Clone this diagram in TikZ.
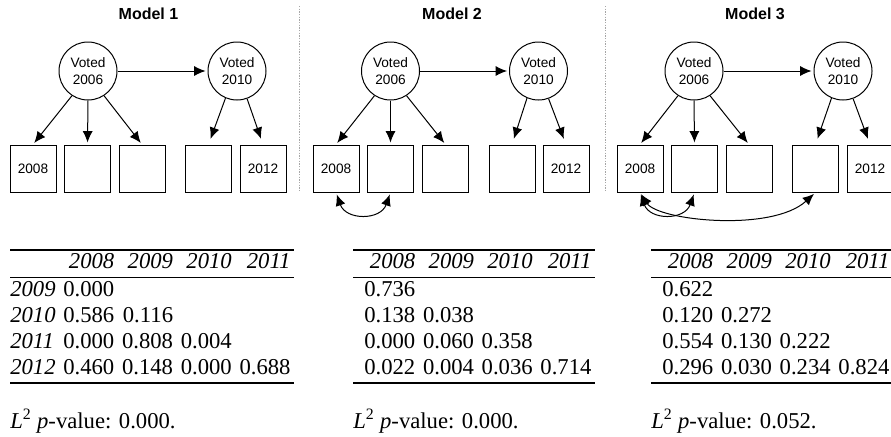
\documentclass[tikz,border=0pt]{standalone}
\usepackage{fontspec}
\setmainfont{Liberation Serif}
\setsansfont{Liberation Sans}
\usepackage{tikz}
\usetikzlibrary{arrows.meta}
\setlength{\tabcolsep}{2.9pt}
\setlength{\arrayrulewidth}{1.1pt}

\begin{document}
\begin{tikzpicture}[x=0.75pt,y=0.75pt,yscale=-1,xscale=1,
  voted/.style={draw, circle, minimum size=43.5pt, inner sep=0pt, align=center, line width=0.75pt, font=\sffamily\fontsize{10.25}{12.75}\selectfont},
  yearbox/.style={draw, rectangle, minimum width=34.5pt, minimum height=35.25pt, inner sep=0pt, line width=0.75pt, font=\sffamily\fontsize{10.25}{12.75}\selectfont},
  link/.style={-{Latex[length=8.5pt,width=7.5pt]}, line width=0.75pt, shorten >=1.5pt},
  corr/.style={{Latex[length=8.5pt,width=7.5pt]}-{Latex[length=8.5pt,width=7.5pt]}, line width=0.75pt, shorten <=1.5pt, shorten >=1.5pt},
  modeltitle/.style={inner sep=0pt, font=\sffamily\bfseries\fontsize{12}{14}\selectfont},
  divider/.style={draw=gray!70, line width=0.75pt, dash pattern=on 1pt off 1pt},
  corrtab/.style={anchor=north west, inner sep=0pt, font=\fontsize{17}{19.5}\selectfont},
  pval/.style={anchor=base west, inner sep=0pt, font=\fontsize{17}{19.5}\selectfont}]
\useasboundingbox (0,0) rectangle (891,436);
%Straight Lines
\draw [divider] (299.5,6) -- (299.5,192) ;
%Straight Lines
\draw [divider] (605,6) -- (605,192) ;

% Model 1
% Text Node
\draw (148.5,14) node [modeltitle] (m1title) {Model 1};
%Shape: Circle
\draw (88,71) node [voted] (m1v06) {Voted\\2006};
%Shape: Circle
\draw (237,71) node [voted] (m1v10) {Voted\\2010};
%Shape: Square
\draw (33,168.5) node [yearbox] (m1y08) {2008};
%Shape: Square
\draw (87.5,168.5) node [yearbox] (m1y09) {};
%Shape: Square
\draw (142,168.5) node [yearbox] (m1y10) {};
%Shape: Square
\draw (208.5,168.5) node [yearbox] (m1y11) {};
%Shape: Square
\draw (263,168.5) node [yearbox] (m1y12) {2012};
%Straight Lines
\draw [link] (m1v06.east) -- (m1v10.west) ;
\draw [link] (m1v06.237) -- (m1y08.north) ;
\draw [link] (m1v06.south) -- (m1y09.north) ;
\draw [link] (m1v06.303) -- (m1y10.north) ;
\draw [link, shorten >=4.5pt] (m1v10.247) -- (m1y11.north) ;
\draw [link, shorten >=4.5pt] (m1v10.290) -- (m1y12.north) ;
% Text Node
\draw (10,249) node [corrtab] (m1tab) {\begin{tabular}{@{}lrrrr}
\hline
 & \textit{2008} & \textit{2009} & \textit{2010} & \textit{2011} \\
\hline
\textit{2009} & 0.000 \\
\textit{2010} & 0.586 & 0.116 \\
\textit{2011} & 0.000 & 0.808 & 0.004 \\
\textit{2012} & 0.460 & 0.148 & 0.000 & 0.688 \\
\hline
\end{tabular}};
% Text Node
\draw (10,428) node [pval] (m1pval) {\textit{L}\textsuperscript{2} \textit{p}-value: 0.000.};

% Model 2
% Text Node
\draw (452,14) node [modeltitle] (m2title) {Model 2};
%Shape: Circle
\draw (390.5,71) node [voted] (m2v06) {Voted\\2006};
%Shape: Circle
\draw (538.5,71) node [voted] (m2v10) {Voted\\2010};
%Shape: Square
\draw (336,168.5) node [yearbox] (m2y08) {2008};
%Shape: Square
\draw (390.5,168.5) node [yearbox] (m2y09) {};
%Shape: Square
\draw (445.5,168.5) node [yearbox] (m2y10) {};
%Shape: Square
\draw (512,168.5) node [yearbox] (m2y11) {};
%Shape: Square
\draw (566,168.5) node [yearbox] (m2y12) {2012};
%Straight Lines
\draw [link] (m2v06.east) -- (m2v10.west) ;
\draw [link] (m2v06.237) -- (m2y08.north) ;
\draw [link] (m2v06.south) -- (m2y09.north) ;
\draw [link] (m2v06.303) -- (m2y10.north) ;
\draw [link, shorten >=4.5pt] (m2v10.247) -- (m2y11.north) ;
\draw [link, shorten >=4.5pt] (m2v10.290) -- (m2y12.north) ;
%Curve Lines
\draw [corr] (m2y08.south) .. controls +(10,28) and +(-10,28) .. (m2y09.south) ;
% Text Node
\draw (353,249) node [corrtab] (m2tab) {\begin{tabular}{@{\hspace{8.25pt}}rrrr}
\hline
\textit{2008} & \textit{2009} & \textit{2010} & \textit{2011} \\
\hline
0.736 \\
0.138 & 0.038 \\
0.000 & 0.060 & 0.358 \\
0.022 & 0.004 & 0.036 & 0.714 \\
\hline
\end{tabular}};
% Text Node
\draw (353,428) node [pval] (m2pval) {\textit{L}\textsuperscript{2} \textit{p}-value: 0.000.};

% Model 3
% Text Node
\draw (755,14) node [modeltitle] (m3title) {Model 3};
%Shape: Circle
\draw (694,71) node [voted] (m3v06) {Voted\\2006};
%Shape: Circle
\draw (843,71) node [voted] (m3v10) {Voted\\2010};
%Shape: Square
\draw (640,168.5) node [yearbox] (m3y08) {2008};
%Shape: Square
\draw (694.5,168.5) node [yearbox] (m3y09) {};
%Shape: Square
\draw (749,168.5) node [yearbox] (m3y10) {};
%Shape: Square
\draw (815.5,168.5) node [yearbox] (m3y11) {};
%Shape: Square
\draw (870,168.5) node [yearbox] (m3y12) {2012};
%Straight Lines
\draw [link] (m3v06.east) -- (m3v10.west) ;
\draw [link] (m3v06.237) -- (m3y08.north) ;
\draw [link] (m3v06.south) -- (m3y09.north) ;
\draw [link] (m3v06.303) -- (m3y10.north) ;
\draw [link, shorten >=4.5pt] (m3v10.247) -- (m3y11.north) ;
\draw [link, shorten >=4.5pt] (m3v10.290) -- (m3y12.north) ;
%Curve Lines
\draw [corr] (m3y08.south) .. controls +(10,28) and +(-10,28) .. (m3y09.south) ;
\draw [corr] (m3y08.south) .. controls +(18,28) and +(-44,40) .. (m3y11.south) ;
% Text Node
\draw (651,249) node [corrtab] (m3tab) {\begin{tabular}{@{\hspace{8.25pt}}rrrr}
\hline
\textit{2008} & \textit{2009} & \textit{2010} & \textit{2011} \\
\hline
0.622 \\
0.120 & 0.272 \\
0.554 & 0.130 & 0.222 \\
0.296 & 0.030 & 0.234 & 0.824 \\
\hline
\end{tabular}};
% Text Node
\draw (651,428) node [pval] (m3pval) {\textit{L}\textsuperscript{2} \textit{p}-value: 0.052.};
\end{tikzpicture}
\end{document}
